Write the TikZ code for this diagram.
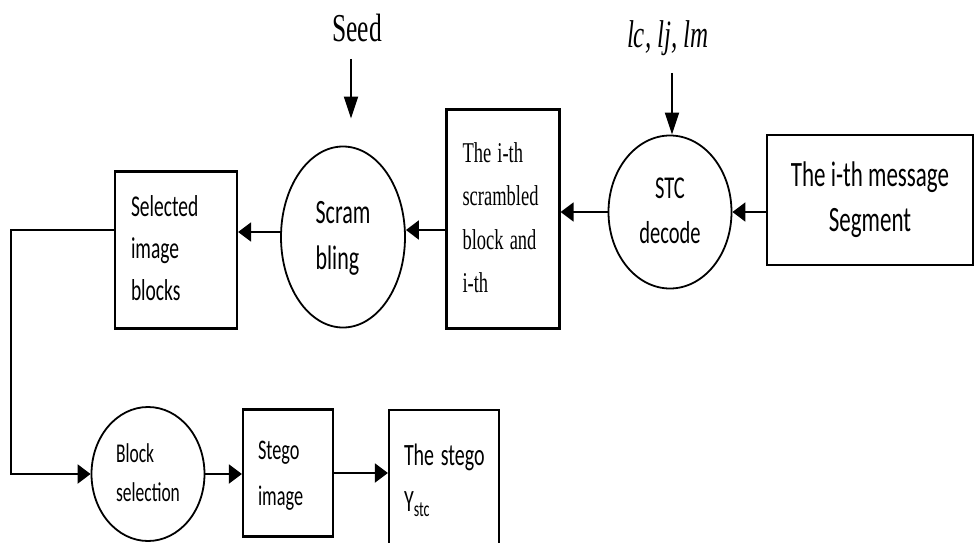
\documentclass[tikz,border=0pt]{standalone}
\usepackage{fontspec}
\setmainfont{Carlito}
\newfontfamily\seriffont{Liberation Serif}
\usepackage{graphicx}
\usetikzlibrary{arrows.meta,shapes.geometric}

% the reference text is drawn tall and narrow
\newcommand{\tallL}[1]{\scalebox{1}[1.55]{\begin{tabular}{@{}l@{}}#1\end{tabular}}}
\newcommand{\tallC}[1]{\scalebox{1}[1.55]{\begin{tabular}{@{}c@{}}#1\end{tabular}}}

\begin{document}
\begin{tikzpicture}[
  x=1pt, y=-1pt,
  box/.style={draw,line width=2.2pt,inner ysep=2pt,align=left},
  oval/.style={draw,ellipse,line width=1.8pt,inner sep=0pt},
  harrow/.style={line width=2pt,-{Triangle[length=13pt,width=19pt]}},
  varrow/.style={line width=2pt,-{Triangle[length=22pt,width=14pt]}}
]
  \useasboundingbox (0,0) rectangle (975,543);

  % inputs on top
  \node[font=\seriffont\fontsize{25.5}{30}\selectfont] (seed) at (357,32) {\tallC{Seed}};
  \node[font=\seriffont\itshape\fontsize{25}{30}\selectfont] (keys) at (668,38) {\tallC{lc, lj, lm}};

  % top row, right to left
  \node[box,align=center,minimum width=206pt,minimum height=130pt,font=\fontsize{23}{29}\selectfont] (msg) at (870,200) {\tallC{The i-th message\\Segment}};
  \node[oval,minimum width=123pt,minimum height=153pt,font=\fontsize{20.5}{29}\selectfont] (stc) at (670,212) {\tallC{STC\\decode}};
  \node[box,minimum height=219pt,inner xsep=16pt,text width=81pt,font=\seriffont\fontsize{18.5}{28}\selectfont] (scr) at (503,219) {\tallL{The i-th\\scrambled\\block and\\i-th}};
  \node[oval,minimum width=124pt,minimum height=181pt,font=\fontsize{22}{30}\selectfont] (scram) at (343,237) {\tallL{Scram\\bling}};
  \node[box,minimum height=157pt,inner xsep=16pt,text width=90pt,font=\fontsize{19.5}{27}\selectfont] (sel) at (176,250) {\tallL{Selected\\image\\blocks}};

  % bottom row
  \node[oval,minimum width=113pt,minimum height=134pt,font=\fontsize{17.5}{25}\selectfont] (blk) at (148,474) {\tallL{Block\\selection}};
  \node[box,minimum height=127pt,inner xsep=15pt,text width=60pt,font=\fontsize{18.3}{30}\selectfont] (stg) at (288,473) {\tallL{Stego\\image}};
  \node[box,minimum height=138pt,inner xsep=15pt,text width=80pt,font=\fontsize{20}{30}\selectfont] (out) at (444,479) {\tallL{The stego\\Y\textsubscript{stc}}};

  \draw[varrow,shorten >=27pt] ([xshift=-6pt]seed.south) -- ([xshift=-6pt]seed.south |- scram.north);
  \draw[varrow,shorten <=8pt] ([xshift=4pt]keys.south) -- ([xshift=4pt]keys.south |- stc.north);
  \draw[harrow] (stc.east -| msg.west) -- (stc.east);
  \draw[harrow] (stc.west) -- (stc.west -| scr.east);
  \draw[harrow] ([yshift=7pt]scram.east -| scr.west) -- ([yshift=7pt]scram.east);
  \draw[harrow] ([yshift=5pt]scram.west) -- ([yshift=5pt]scram.west -| sel.east);
  \draw[harrow] ([yshift=7pt]scram.west -| sel.west) -- ++(-103,0) |- (blk.west);
  \draw[harrow] (blk.east) -- (blk.east -| stg.west);
  \draw[harrow] (stg.east) -- (stg.east -| out.west);
\end{tikzpicture}
\end{document}
